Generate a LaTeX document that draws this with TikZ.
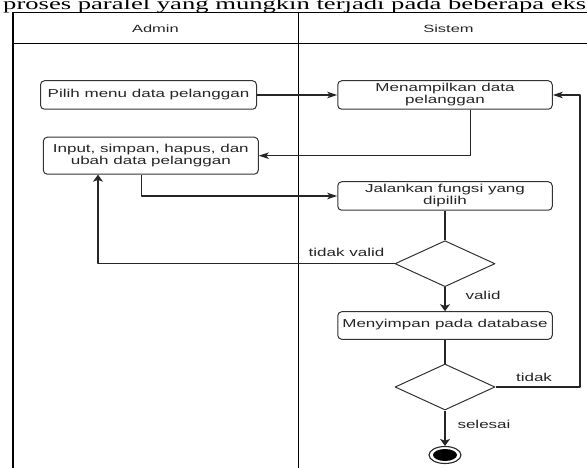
\documentclass[tikz,border=0pt]{standalone}
\usepackage{fontspec}
\setmainfont{Liberation Serif}
\newfontfamily\arialf{Liberation Sans}
\usepackage{graphicx}
\usetikzlibrary{shapes.geometric,arrows.meta,calc}
\newcommand{\lbtxt}[1]{\scalebox{1.48}[1]{\begin{tabular}{@{}c@{}}#1\end{tabular}}}
\newcommand{\hdtxt}[1]{\scalebox{1.57}[1]{#1}}
\begin{document}
\begin{tikzpicture}[x=1pt,y=-1pt,line join=round,
  act/.style={draw=black!80, line width=1pt, rounded corners=4pt,
    minimum width=214.5pt, minimum height=28.5pt, inner sep=0pt,
    font=\arialf\fontsize{11.5}{12}\selectfont, text=black!85},
  dec/.style={draw=black!80, line width=1pt, diamond,
    minimum width=100pt, minimum height=46pt, inner sep=0pt},
  lbl/.style={font=\arialf\fontsize{11.5}{12}\selectfont, text=black!85, inner sep=0pt},
  hdr/.style={font=\arialf\fontsize{10.5}{12}\selectfont, text=black!85, inner sep=0pt},
  flow/.style={draw=black!85, line width=1.1pt},
  arrH/.style={flow, -{Stealth[length=10pt,width=6.5pt,inset=2.5pt]}},
  arrV/.style={flow, -{Stealth[length=7pt,width=10pt,inset=1.8pt]}},
  lane/.style={draw=black, line width=1.2pt}]
\useasboundingbox (0,0) rectangle (587,468);
\clip (0,0) rectangle (587,468);
\fill[white] (0,0) rectangle (587,468);

% title line (cut off)
\node[anchor=base west, inner sep=0pt] (title) at (3,9.3)
  {\resizebox{583pt}{11.6pt}{proses paralel yang mungkin terjadi pada beberapa eks}};

% swimlanes
\draw[lane] (13,490) -- (13,12.3) -- (700,12.3);
\draw[lane] (13,43.7) -- (700,43.7);
\draw[lane] (298.8,12.3) -- (298.8,490);
\node[hdr] (hadmin) at (155.4,28.3) {\hdtxt{Admin}};
\node[hdr] (hsistem) at (448.5,28.3) {\hdtxt{Sistem}};

% activities
\node[act, minimum width=216pt] (b1) at (148.5,95) {\lbtxt{Pilih menu data pelanggan}};
\node[act] (b2) at (445,95) {\lbtxt{Menampilkan data\\pelanggan}};
\node[act, minimum width=215pt, minimum height=37pt] (b3) at (150.8,155.7)
  {\lbtxt{Input, simpan, hapus, dan\\ubah data pelanggan}};
\node[act] (b4) at (445,196) {\lbtxt{Jalankan fungsi yang\\dipilih}};
\node[dec] (d1) at (445,263.7) {};
\node[act, minimum height=27.6pt] (b5) at (445,325.5) {\lbtxt{Menyimpan pada database}};
\node[dec] (d2) at (445,387) {};
\node[ellipse, draw=black!85, line width=1.1pt, minimum width=32pt, minimum height=17pt, inner sep=0pt] (end) at (445,455) {};
\fill[black] (end.center) ellipse [x radius=12pt, y radius=6pt];

% helper coordinates
\coordinate (c23) at (470.2,155.7);
\coordinate (c34) at (141.5,196);
\coordinate (c13) at (98,263.7);
\coordinate (r1) at (580,387);
\coordinate (r2) at (580,95);

% connectors
\draw[arrH] (b1.east) -- (b2.west);
\draw[arrH] (b2.south -| c23) -- (c23) -- (b3.east);
\draw[arrH] (b3.south -| c34) -- (c34) -- (b4.west);
\draw[flow] (b4.south) -- (d1.north);
\draw[arrV] (d1.west) -- (c13) -- (b3.south -| c13);
\draw[arrV] (d1.south) -- (b5.north);
\draw[flow] (b5.south) -- (d2.north);
\draw[arrH] (d2.east) -- (r1) -- (r2) -- (b2.east);
\draw[arrV] (d2.south) -- (end.north);

% connector labels
\node[lbl] (ltv) at (346.5,254) {\lbtxt{tidak valid}};
\node[lbl] (lv) at (483,296.7) {\lbtxt{valid}};
\node[lbl] (lt) at (534,379.3) {\lbtxt{tidak}};
\node[lbl] (ls) at (484,426) {\lbtxt{selesai}};
\end{tikzpicture}
\end{document}
